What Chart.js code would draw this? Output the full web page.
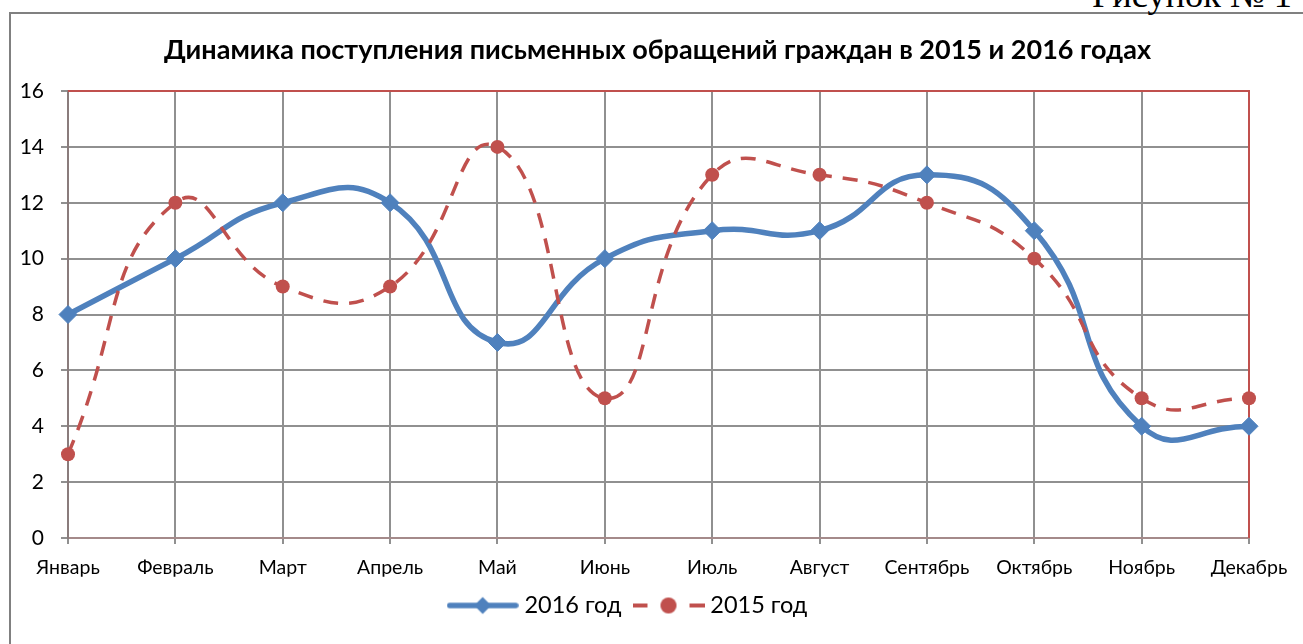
<!DOCTYPE html>
<html lang="ru">
<head>
<meta charset="utf-8">
<title>Динамика поступления письменных обращений граждан</title>
<script src="https://cdn.jsdelivr.net/npm/chart.js@4/dist/chart.umd.min.js"></script>
<style>
  html, body { margin: 0; padding: 0; background: #ffffff; width: 1303px; height: 644px; overflow: hidden; }
  #frame { position: absolute; left: 9px; top: 12px; width: 1400px; height: 700px;
           border-left: 2px solid #808080; border-top: 2px solid #808080; box-sizing: border-box; }
  #cap { position: absolute; right: 11px; font-family: 'Liberation Serif', serif; color: #000; white-space: nowrap; }
  #chart { position: absolute; left: 0; top: 0; }
</style>
</head>
<body>
<div id="frame"></div>
<div id="cap">Рисунок № 1</div>
<canvas id="chart" width="1303" height="644"></canvas>
<script>
// ---- data ----
const months = ['Январь', 'Февраль', 'Март', 'Апрель', 'Май', 'Июнь', 'Июль', 'Август', 'Сентябрь', 'Октябрь', 'Ноябрь', 'Декабрь'];
const values2016 = [8, 10, 12, 12, 7, 10, 11, 11, 13, 11, 4, 4];
const values2015 = [3, 12, 9, 9, 14, 5, 13, 13, 12, 10, 5, 5];
const seriesNames = ['2016 год', '2015 год'];
const yMin = 0, yMax = 16, yStep = 2;
const titleText = 'Динамика поступления письменных обращений граждан в 2015 и 2016 годах';

// ---- styling ----
const BLUE = '#4F81BD';
const RED = '#C0504D';
const GRID = '#909090';
const FONT = 'Lato';

// caption above the frame
(function () {
  const cap = document.getElementById('cap');
  const c = document.createElement('canvas').getContext('2d');
  c.font = "100px 'Liberation Serif'";
  const fs = 100 * 200 / c.measureText(cap.textContent).width;
  c.font = fs + "px 'Liberation Serif'";
  const m = c.measureText(cap.textContent);
  cap.style.fontSize = fs + 'px';
  cap.style.lineHeight = (m.fontBoundingBoxAscent + m.fontBoundingBoxDescent) + 'px';
  cap.style.top = (7 - m.fontBoundingBoxAscent) + 'px';
})();

// legend swatches (line + marker)
function makeSwatch(kind) {
  const cv = document.createElement('canvas');
  cv.width = 72; cv.height = 22;
  const g = cv.getContext('2d');
  const cy = 11;
  if (kind === 'blue') {
    g.strokeStyle = BLUE; g.lineWidth = 5.5; g.lineCap = 'round';
    g.beginPath(); g.moveTo(3, cy); g.lineTo(69, cy); g.stroke();
    g.fillStyle = BLUE;
    g.beginPath(); g.moveTo(36 - 8.5, cy); g.lineTo(36, cy - 8.5); g.lineTo(36 + 8.5, cy); g.lineTo(36, cy + 8.5); g.closePath(); g.fill();
  } else {
    g.strokeStyle = RED; g.lineWidth = 3.8;
    g.setLineDash([15, 13.5]);
    g.beginPath(); g.moveTo(0, cy); g.lineTo(72, cy); g.stroke();
    g.setLineDash([]);
    g.fillStyle = RED;
    g.beginPath(); g.arc(36, cy, 8, 0, Math.PI * 2); g.fill();
  }
  return cv;
}
const swatches = [makeSwatch('blue'), makeSwatch('red')];

// Excel-style placement: title centred over the plot, legend slightly left
const blockShift = {
  id: 'blockShift',
  afterLayout(chart) {
    if (chart.titleBlock) { chart.titleBlock.left += 33; chart.titleBlock.right += 33; }
    if (chart.legend) { chart.legend.left += 5.5; chart.legend.right += 5.5; }
  }
};

const plotFrame = {
  id: 'plotFrame',
  beforeDatasetsDraw(chart) {
    const { ctx, chartArea: a } = chart;
    ctx.save();
    ctx.strokeStyle = RED; ctx.lineWidth = 2;
    ctx.beginPath();
    ctx.moveTo(a.left, a.top); ctx.lineTo(a.right, a.top); ctx.lineTo(a.right, a.bottom);
    ctx.stroke();
    ctx.restore();
  }
};

Chart.defaults.font.family = FONT;
Chart.defaults.color = '#000000';

new Chart(document.getElementById('chart'), {
  type: 'line',
  data: {
    labels: months,
    datasets: [
      {
        label: seriesNames[0], data: values2016, order: 1,
        borderColor: BLUE, backgroundColor: BLUE, borderWidth: 5.5,
        tension: 0.5, pointStyle: 'rectRot', pointRadius: 9, pointBorderWidth: 1,
        pointBackgroundColor: BLUE, pointBorderColor: BLUE, fill: false
      },
      {
        label: seriesNames[1], data: values2015, order: 0,
        borderColor: RED, backgroundColor: RED, borderWidth: 3.5, borderDash: [15, 11],
        tension: 0.5, pointStyle: 'circle', pointRadius: 7, pointBorderWidth: 0,
        pointBackgroundColor: RED, pointBorderColor: RED, fill: false
      }
    ]
  },
  options: {
    responsive: false,
    animation: false,
    devicePixelRatio: 1,
    layout: { padding: { left: 0, right: 54, top: 0, bottom: 16.75 } },
    plugins: {
      tooltip: { enabled: false },
      title: {
        display: true, text: titleText, color: '#000',
        font: { family: FONT, size: 27, weight: 'bold', lineHeight: 1.2 },
        padding: { top: 34, bottom: 24.6 }
      },
      legend: {
        display: true, position: 'bottom',
        labels: {
          usePointStyle: true, pointStyleWidth: 60, padding: 17,
          font: { family: FONT, size: 23.5 }, color: '#000',
          generateLabels(chart) {
            return chart.data.datasets.map((ds, i) => ({
              text: ds.label, pointStyle: swatches[i], fillStyle: 'transparent',
              strokeStyle: 'transparent', lineWidth: 0, hidden: false, datasetIndex: i, fontColor: '#000'
            }));
          }
        }
      }
    },
    scales: {
      x: {
        type: 'category', offset: false,
        grid: {
          color: (c) => (c.index === months.length - 1 ? RED : GRID),
          tickColor: GRID, lineWidth: 2, tickLength: 6, drawTicks: true
        },
        border: { display: true, color: '#a48a8a', width: 2 },
        ticks: { font: { family: FONT, size: 19.5 }, color: '#000', padding: 12, maxRotation: 0, autoSkip: false },
        afterFit(s) { s.height = 38.75; s.paddingLeft = 0; s.paddingRight = 0; }
      },
      y: {
        min: yMin, max: yMax,
        grid: {
          color: (c) => (c.tick && c.tick.value === yMax ? RED : GRID),
          tickColor: GRID, lineWidth: 2, tickLength: 7, drawTicks: true
        },
        border: { display: true, color: '#8a7c7c', width: 2 },
        ticks: { stepSize: yStep, font: { family: FONT, size: 21 }, color: '#000', padding: 17 },
        afterFit(s) { s.width = 68; }
      }
    }
  },
  plugins: [blockShift, plotFrame]
});
</script>
</body>
</html>
